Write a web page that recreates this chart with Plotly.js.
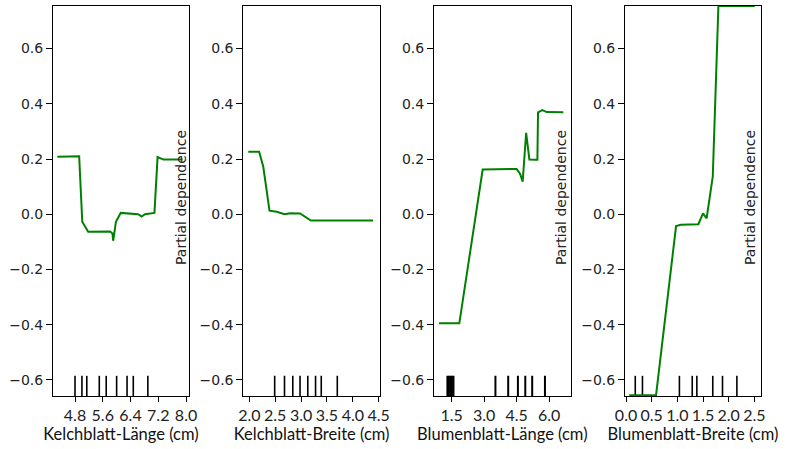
<!DOCTYPE html>
<html>
<head>
<meta charset="utf-8">
<script src="https://cdn.plot.ly/plotly-3.0.1.min.js"></script>
<style>html,body{margin:0;padding:0;background:#fff;}#chart{width:788px;height:449px;}</style>
</head>
<body>
<div id="chart"></div>
<script>
// Partial dependence curves
const sepalLenX = [4.29, 4.92, 5.01, 5.18, 5.81, 5.88, 5.90, 5.98, 6.12, 6.62, 6.72, 6.82, 7.09, 7.18, 7.35, 7.90];
const sepalLenY = [0.208, 0.21, -0.027, -0.063, -0.062, -0.07, -0.096, -0.027, 0.005, 0.0, -0.008, 0.0, 0.005, 0.207, 0.198, 0.198];

const sepalWidX = [1.98, 2.19, 2.27, 2.39, 2.53, 2.68, 2.79, 2.98, 3.19, 4.39];
const sepalWidY = [0.226, 0.226, 0.172, 0.013, 0.009, 0.0, 0.004, 0.003, -0.023, -0.023];

const petalLenX = [0.91, 1.85, 2.93, 4.50, 4.66, 4.78, 4.94, 5.09, 5.35, 5.46, 5.49, 5.69, 5.89, 6.66];
const petalLenY = [-0.395, -0.395, 0.162, 0.164, 0.146, 0.118, 0.295, 0.198, 0.197, 0.197, 0.369, 0.377, 0.37, 0.369];

const petalWidX = [0.064, 0.585, 0.975, 1.07, 1.41, 1.50, 1.57, 1.69, 1.80, 2.51];
const petalWidY = [-0.655, -0.655, -0.043, -0.038, -0.036, 0.003, -0.015, 0.136, 0.754, 0.754];

// Deciles (rug marks)
const sepalLenDeciles = [4.8, 5.0, 5.14, 5.5, 5.7, 6.0, 6.3, 6.48, 6.9];
const sepalWidDeciles = [2.49, 2.68, 2.84, 2.98, 3.13, 3.28, 3.39, 3.7];
const petalLenDeciles = [1.3, 1.37, 1.44, 1.51, 1.58, 3.52, 4.11, 4.56, 4.9, 5.22, 5.81];
const petalWidDeciles = [0.18, 0.32, 1.04, 1.29, 1.38, 1.69, 1.88, 2.16];

// Axis labels
const xTitles = ["Kelchblatt-Länge (cm)", "Kelchblatt-Breite (cm)", "Blumenblatt-Länge (cm)", "Blumenblatt-Breite (cm)"];
const yTitle = "Partial dependence";
const yTickVals = [-0.6, -0.4, -0.2, 0.0, 0.2, 0.4, 0.6];
const yTickText = ["\u22120.6", "\u22120.4", "\u22120.2", "0.0", "0.2", "0.4", "0.6"];
const xTickVals = [
  [4.8, 5.6, 6.4, 7.2, 8.0],
  [2.0, 2.5, 3.0, 3.5, 4.0, 4.5],
  [1.5, 3.0, 4.5, 6.0],
  [0.0, 0.5, 1.0, 1.5, 2.0, 2.5]
];
const xTickText = [
  ["4.8", "5.6", "6.4", "7.2", "8.0"],
  ["2.0", "2.5", "3.0", "3.5", "4.0", "4.5"],
  ["1.5", "3.0", "4.5", "6.0"],
  ["0.0", "0.5", "1.0", "1.5", "2.0", "2.5"]
];

const curves = [[sepalLenX, sepalLenY], [sepalWidX, sepalWidY], [petalLenX, petalLenY], [petalWidX, petalWidY]];
const deciles = [sepalLenDeciles, sepalWidDeciles, petalLenDeciles, petalWidDeciles];

const xRanges = [[4.166, 8.086], [1.884, 4.525], [0.68, 7.0], [-0.02, 2.63]];
const xDomains = [[0.06726, 0.23985], [0.30876, 0.48223], [0.55076, 0.72424], [0.79315, 0.96574]];
const yRange = [-0.658, 0.754];
const rugBottom = -0.66, rugTop = -0.585;

const traces = [];
const layout = {
  width: 788, height: 449,
  margin: {l: 0, r: 0, t: 6, b: 53},
  paper_bgcolor: "#fff", plot_bgcolor: "#fff",
  showlegend: false,
  annotations: []
};

for (let i = 0; i < 4; i++) {
  const sfx = i === 0 ? "" : String(i + 1);
  const xa = "x" + sfx, ya = "y" + sfx;
  // rug
  const rx = [], ry = [];
  deciles[i].forEach(v => { rx.push(v, v, null); ry.push(rugBottom, rugTop, null); });
  traces.push({x: rx, y: ry, xaxis: xa, yaxis: ya, mode: "lines", type: "scatter",
    line: {color: "#000", width: i === 2 ? 2 : 1.6}, hoverinfo: "skip"});
  // curve
  traces.push({x: curves[i][0], y: curves[i][1], xaxis: xa, yaxis: ya, mode: "lines", type: "scatter",
    line: {color: "#008000", width: 2}});

  layout["xaxis" + sfx] = {
    domain: xDomains[i], range: xRanges[i], anchor: ya,
    showline: true, linecolor: "#000", linewidth: 1, mirror: true,
    ticks: "outside", ticklen: 5, tickcolor: "#000", tickwidth: 1,
    tickvals: xTickVals[i], ticktext: xTickText[i],
    tickfont: {family: "Lato, 'Open Sans', sans-serif", size: 16, color: "#222"},
    showgrid: false, zeroline: false,
    title: {text: xTitles[i], font: {family: "Lato, 'Open Sans', sans-serif", size: 16.5, color: "#111"}, standoff: 4}
  };
  layout["yaxis" + sfx] = {
    domain: [0, 1], range: yRange, anchor: xa,
    showline: true, linecolor: "#000", linewidth: 1, mirror: true,
    ticks: "outside", ticklen: 6, tickcolor: "#000", tickwidth: 1,
    tickvals: yTickVals, ticktext: yTickText,
    tickfont: {family: "'DejaVu Sans', sans-serif", size: 14, color: "#222"},
    showgrid: false, zeroline: false
  };
}

// "Partial dependence" labels as drawn in the reference (paper y measured within plot area 6..396 px)
[181, 561, 750].forEach(px => {
  layout.annotations.push({
    text: yTitle, textangle: -90, xref: "paper", yref: "paper",
    x: px / 788, y: (396 - 198) / 390, xanchor: "center", yanchor: "middle",
    showarrow: false, font: {family: "'DejaVu Sans', sans-serif", size: 14, color: "#222"}
  });
});

Plotly.newPlot("chart", traces, layout, {staticPlot: true, displayModeBar: false});
</script>
</body>
</html>
